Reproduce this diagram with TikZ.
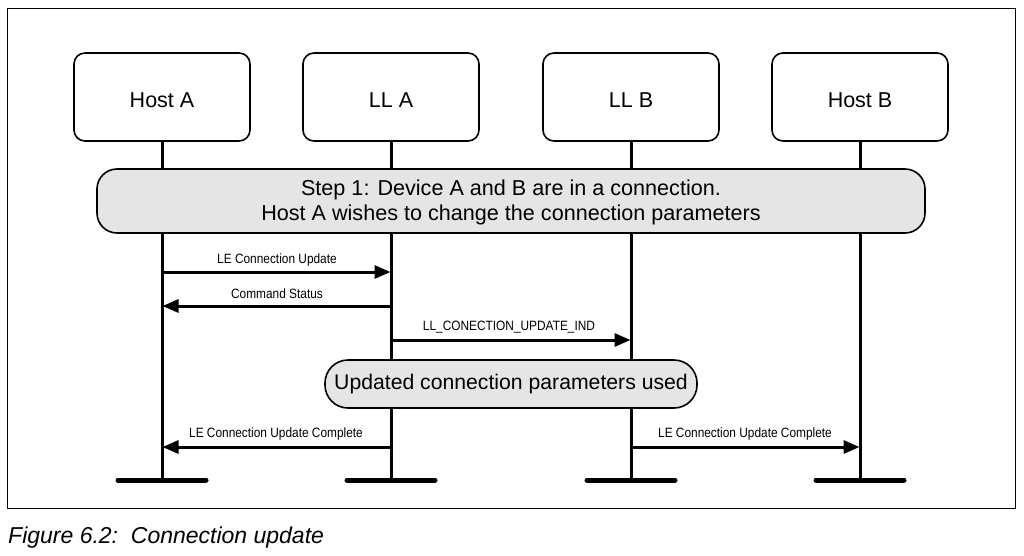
\documentclass[tikz,border=0pt]{standalone}
\usepackage{fontspec}
\setmainfont{Liberation Sans}
\usetikzlibrary{arrows.meta}
\newcommand{\narrowtxt}[1]{\scalebox{0.88}[1]{#1}}
\begin{document}
\begin{tikzpicture}[x=1pt,y=-1pt,
  actor/.style={draw,line width=1.6pt,rounded corners=11pt,minimum width=176pt,minimum height=88pt,inner sep=0pt,fill=white},
  actortxt/.style={font=\fontsize{21.5}{25}\selectfont,inner sep=0pt},
  note/.style={draw,line width=1.6pt,fill=black!10,inner sep=0pt,font=\fontsize{21.6}{25}\selectfont,align=center},
  life/.style={line width=3pt},
  bar/.style={line width=5pt,line cap=round},
  msg/.style={line width=3pt,-{Triangle[length=16pt,width=13pt]},shorten >=-1pt},
  lbl/.style={font=\fontsize{13.5}{15}\selectfont,inner sep=0pt}]
\useasboundingbox (0,0) rectangle (1024,555);
\draw[line width=0.8pt] (7,8) rectangle (1015,508);
% actors
\node[actor,label={[actortxt,yshift=-3pt]center:Host A}] (ha) at (162,97) {};
\node[actor,label={[actortxt,yshift=-3pt]center:LL A}] (lla) at (391,97) {};
\node[actor,label={[actortxt,yshift=-3pt]center:LL B}] (llb) at (631,97) {};
\node[actor,label={[actortxt,yshift=-3pt]center:Host B}] (hb) at (860,97) {};
% lifeline ends
\coordinate (eha) at (162,480);
\coordinate (ella) at (391,480);
\coordinate (ellb) at (631,480);
\coordinate (ehb) at (860,480);
\draw[life] (ha.south) -- (eha);
\draw[life] (lla.south) -- (ella);
\draw[life] (llb.south) -- (ellb);
\draw[life] (hb.south) -- (ehb);
\draw[bar] ([xshift=-44pt]eha) -- ([xshift=44pt]eha);
\draw[bar] ([xshift=-44pt]ella) -- ([xshift=44pt]ella);
\draw[bar] ([xshift=-44pt]ellb) -- ([xshift=44pt]ellb);
\draw[bar] ([xshift=-44pt]ehb) -- ([xshift=44pt]ehb);
% notes
\node[note,rounded corners=20pt,minimum width=828pt,minimum height=64pt] (step) at (511,201)
  {\rule{0pt}{19pt}Step 1: Device A and B are in a connection.\\Host A wishes to change the connection parameters};
\node[note,rounded corners=23pt,minimum width=372pt,minimum height=48pt,font=\fontsize{21.2}{25}\selectfont] (upd) at (511,384)
  {Updated connection parameters used};
% messages
\coordinate (m1a) at (163.5,272); \coordinate (m1b) at (389.5,272);
\coordinate (m2a) at (389.5,306); \coordinate (m2b) at (163.5,306);
\coordinate (m3a) at (392.5,340); \coordinate (m3b) at (629.5,340);
\coordinate (m4a) at (389.5,447); \coordinate (m4b) at (163.5,447);
\coordinate (m5a) at (632.5,447); \coordinate (m5b) at (858.5,447);
\draw[msg] (m1a) -- (m1b);
\draw[msg] (m2a) -- (m2b);
\draw[msg] (m3a) -- (m3b);
\draw[msg] (m4a) -- (m4b);
\draw[msg] (m5a) -- (m5b);
\node[lbl] (l1) at (277,260) {\narrowtxt{LE Connection Update}};
\node[lbl] (l2) at (277,294) {\narrowtxt{Command Status}};
\node[lbl] (l3) at (509,327) {\narrowtxt{LL\_CONECTION\_UPDATE\_IND}};
\node[lbl] (l4) at (276,434) {\narrowtxt{LE Connection Update Complete}};
\node[lbl] (l5) at (745,434) {\narrowtxt{LE Connection Update Complete}};
% caption
\node[anchor=west,inner sep=0pt,font=\fontsize{23}{27}\selectfont\itshape] (cap) at (8,538) {Figure 6.2:\ \ Connection update};
\end{tikzpicture}
\end{document}
